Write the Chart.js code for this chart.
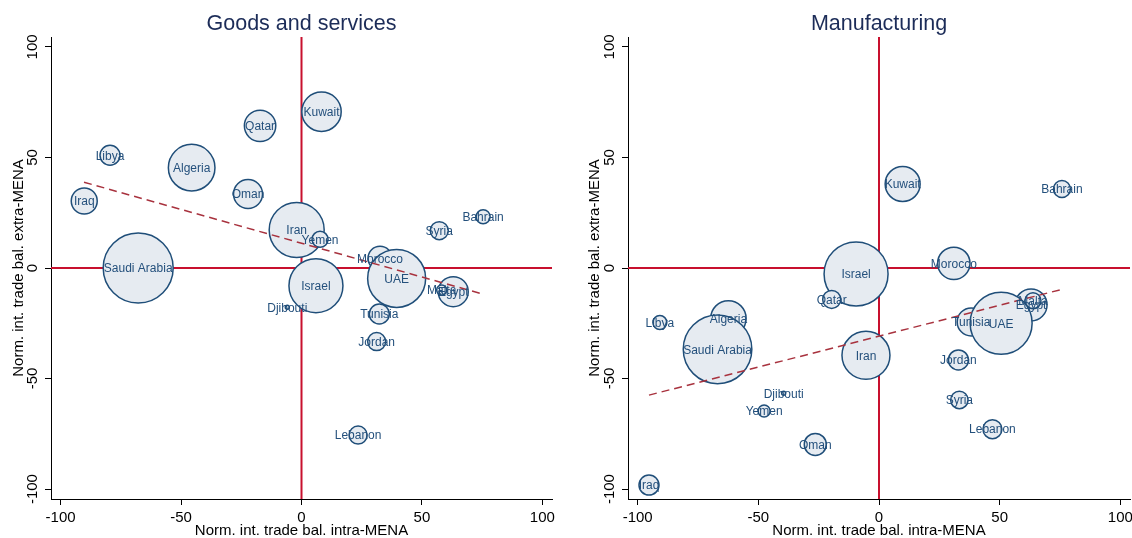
<!DOCTYPE html>
<html><head><meta charset="utf-8">
<script src="https://cdn.jsdelivr.net/npm/chart.js@4.4.1/dist/chart.umd.min.js"></script>
<style>
html,body{margin:0;padding:0;background:#fff;}
#wrap{position:relative;width:1132px;height:538px;overflow:hidden;}
#wrap canvas{position:absolute;top:0;}
</style></head><body>
<div id="wrap">
<canvas id="c1" width="566" height="538" style="left:0px"></canvas>
<canvas id="c2" width="566" height="538" style="left:566px"></canvas>
</div>
<script>
// ---- data ----
const countries = ["Algeria","Bahrain","Djibouti","Egypt","Iran","Iraq","Israel","Jordan","Kuwait","Lebanon","Libya","Malta","Morocco","Oman","Qatar","Saudi Arabia","Syria","Tunisia","UAE","Yemen"];

// Goods and services
const gsX    = [-45.6, 75.4, -5.9, 63.0, -2.0, -90.2,  6.0,  31.2,  8.3,  23.5, -79.5, 58.2, 32.6, -22.2, -17.2, -67.8, 57.2,  32.3,  39.5,  7.7];
const gsY    = [ 45.4, 23.2,-17.8,-10.7, 17.2,  30.3, -8.0, -33.3, 70.7, -75.6,  51.0,-10.0,  4.4,  33.5,  64.3,   0.0, 16.9, -20.8,  -4.7, 13.0];
const gsSize = [ 23.3,  7.0,  2.0, 15.0, 27.5,  13.0, 27.0,   9.0, 19.7,   9.0,  10.0,  5.0, 12.0,  14.5,  15.7,  35.0,  9.0,  10.0,  29.0,  8.0];
const gsFitX = [-90.3, 75.3];
const gsFitY = [ 38.8, -11.8];

// Manufacturing
const mfX    = [-62.4, 75.8,-39.5, 63.0, -5.4, -95.3, -9.5,  32.9,  9.8,  47.0, -90.8, 63.8, 31.0, -26.4, -19.6, -66.9, 33.3,  38.2,  50.6, -47.6];
const mfY    = [-22.8, 35.7,-56.7,-16.7,-39.5, -98.2, -2.7, -41.6, 38.0, -72.9, -24.7,-14.8,  2.1, -79.8, -14.2, -36.8,-59.7, -24.4, -25.0, -64.7];
const mfSize = [ 17.7,  8.5,  2.0, 16.0, 24.0,  10.0, 32.0,  10.0, 17.5,   9.5,   7.0,  8.0, 16.2,  11.0,   9.0,  34.3,  8.7,  14.0,  31.0,   6.0];
const mfFitX = [-95.3, 76.0];
const mfFitY = [-57.5, -9.6];

const tickVals = [-100, -50, 0, 50, 100];
const xRange = [-104, 104];
const yRange = [-104.5, 104.5];

// ---- drawing ----
const FONT = "'Liberation Sans', Arial, Helvetica, sans-serif";
const labelPlugin = {
  id: 'bubbleLabels',
  afterDatasetsDraw(chart) {
    const ctx = chart.ctx;
    chart.data.datasets.forEach((ds, di) => {
      if (!ds.names) return;
      const meta = chart.getDatasetMeta(di);
      ctx.save();
      ctx.font = '12px ' + FONT;
      ctx.fillStyle = '#24507c';
      ctx.textAlign = 'center';
      ctx.textBaseline = 'middle';
      meta.data.forEach((el, i) => { ctx.fillText(ds.names[i], el.x, el.y + 1); });
      ctx.restore();
    });
  }
};

function makeChart(id, title, xs, ys, sizes, fitX, fitY, yAxisWidth, rightPad, yTitlePad) {
  const red = '#c8102e';
  return new Chart(document.getElementById(id), {
    type: 'bubble',
    data: {
      datasets: [
        { type: 'line', data: fitX.map((x, i) => ({x, y: fitY[i]})), borderColor: '#a8323e', borderWidth: 1.5,
          borderDash: [8, 5], pointRadius: 0, fill: false, order: 0 },
        { type: 'bubble', names: countries, data: xs.map((x, i) => ({x, y: ys[i], r: sizes[i]})),
          backgroundColor: '#e6ebf1', borderColor: '#1f4e79', borderWidth: 1.5, order: 1, clip: false },
        { type: 'line', data: [{x: 0, y: yRange[0]}, {x: 0, y: yRange[1]}], borderColor: red, borderWidth: 2,
          pointRadius: 0, fill: false, order: 2 },
        { type: 'line', data: [{x: xRange[0], y: 0}, {x: xRange[1], y: 0}], borderColor: red, borderWidth: 2,
          pointRadius: 0, fill: false, order: 2 }
      ]
    },
    options: {
      responsive: false, animation: false, events: [],
      layout: { autoPadding: false, padding: { left: 0, right: rightPad, top: 0, bottom: 0 } },
      plugins: {
        legend: { display: false }, tooltip: { enabled: false },
        title: { display: true, fullSize: false, text: title, color: '#1c2c58',
                 font: { size: 21.5, weight: 'normal', family: FONT, lineHeight: 1.2 },
                 padding: { top: 11, bottom: 0.2 } }
      },
      scales: {
        x: {
          type: 'linear', min: xRange[0], max: xRange[1],
          afterBuildTicks: s => { s.ticks = tickVals.map(v => ({value: v})); },
          afterFit: s => { s.height = 39; s.paddingLeft = 0; s.paddingRight = 0; },
          ticks: { font: { size: 15, family: FONT }, color: '#000', padding: 4, maxRotation: 0, autoSkip: false },
          grid: { display: true, drawOnChartArea: false, drawTicks: true, tickLength: 6, color: '#000', lineWidth: 1 },
          border: { display: true, color: '#000', width: 1 },
          title: { display: true, text: 'Norm. int. trade bal. intra-MENA', color: '#000',
                   font: { size: 15, family: FONT }, padding: { top: 0, bottom: -2 } }
        },
        y: {
          type: 'linear', min: yRange[0], max: yRange[1],
          afterBuildTicks: s => { s.ticks = tickVals.map(v => ({value: v})); },
          afterFit: s => { s.width = yAxisWidth; s.paddingTop = 0; s.paddingBottom = 0; },
          ticks: { font: { size: 15, family: FONT }, color: '#000', padding: -3, minRotation: 90, maxRotation: 90,
                   crossAlign: 'center', autoSkip: false },
          grid: { display: true, drawOnChartArea: false, drawTicks: true, tickLength: 6, color: '#000', lineWidth: 1 },
          border: { display: true, color: '#000', width: 1 },
          title: { display: true, text: 'Norm. int. trade bal. extra-MENA', color: '#000',
                   font: { size: 15, family: FONT }, padding: { top: yTitlePad, bottom: 0 } }
        }
      }
    },
    plugins: [labelPlugin]
  });
}

makeChart('c1', 'Goods and services', gsX, gsY, gsSize, gsFitX, gsFitY, 51, 14, 10);
makeChart('c2', 'Manufacturing', mfX, mfY, mfSize, mfFitX, mfFitY, 62, 2, 20);
</script>
</body></html>
